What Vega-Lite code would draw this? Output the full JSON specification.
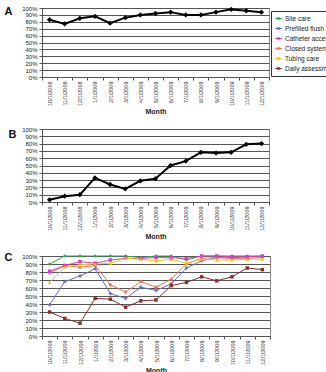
{
  "$schema": "https://vega.github.io/schema/vega-lite/v6.json",
  "background": "white",
  "padding": {"left": 3, "top": 4, "right": 0, "bottom": 0},
  "spacing": 10,
  "align": "each",
  "datasets": {
    "a": [
      {"month": "10/1/2008", "value": 0.83},
      {"month": "11/1/2008", "value": 0.77},
      {"month": "12/1/2008", "value": 0.85},
      {"month": "1/1/2009", "value": 0.88},
      {"month": "2/1/2009", "value": 0.78},
      {"month": "3/1/2009", "value": 0.86},
      {"month": "4/1/2009", "value": 0.90},
      {"month": "5/1/2009", "value": 0.92},
      {"month": "6/1/2009", "value": 0.94},
      {"month": "7/1/2009", "value": 0.90},
      {"month": "8/1/2009", "value": 0.90},
      {"month": "9/1/2009", "value": 0.94},
      {"month": "10/1/2009", "value": 0.98},
      {"month": "11/1/2009", "value": 0.96},
      {"month": "12/1/2009", "value": 0.94}
    ],
    "b": [
      {"month": "10/1/2008", "value": 0.03},
      {"month": "11/1/2008", "value": 0.08},
      {"month": "12/1/2008", "value": 0.10},
      {"month": "1/1/2009", "value": 0.33},
      {"month": "2/1/2009", "value": 0.24},
      {"month": "3/1/2009", "value": 0.18},
      {"month": "4/1/2009", "value": 0.29},
      {"month": "5/1/2009", "value": 0.32},
      {"month": "6/1/2009", "value": 0.50},
      {"month": "7/1/2009", "value": 0.56},
      {"month": "8/1/2009", "value": 0.68},
      {"month": "9/1/2009", "value": 0.67},
      {"month": "10/1/2009", "value": 0.68},
      {"month": "11/1/2009", "value": 0.79},
      {"month": "12/1/2009", "value": 0.80}
    ],
    "c": [
      {"series": "Site care", "month": "10/1/2008", "value": 0.90},
      {"series": "Site care", "month": "11/1/2008", "value": 1.00},
      {"series": "Site care", "month": "12/1/2008", "value": 1.00},
      {"series": "Site care", "month": "1/1/2009", "value": 1.00},
      {"series": "Site care", "month": "2/1/2009", "value": 1.00},
      {"series": "Site care", "month": "3/1/2009", "value": 1.00},
      {"series": "Site care", "month": "4/1/2009", "value": 0.98},
      {"series": "Site care", "month": "5/1/2009", "value": 1.00},
      {"series": "Site care", "month": "6/1/2009", "value": 1.00},
      {"series": "Site care", "month": "7/1/2009", "value": 0.95},
      {"series": "Site care", "month": "8/1/2009", "value": 1.00},
      {"series": "Site care", "month": "9/1/2009", "value": 1.00},
      {"series": "Site care", "month": "10/1/2009", "value": 1.00},
      {"series": "Site care", "month": "11/1/2009", "value": 1.00},
      {"series": "Site care", "month": "12/1/2009", "value": 1.00},
      {"series": "Prefilled flush", "month": "10/1/2008", "value": 0.39},
      {"series": "Prefilled flush", "month": "11/1/2008", "value": 0.68},
      {"series": "Prefilled flush", "month": "12/1/2008", "value": 0.75},
      {"series": "Prefilled flush", "month": "1/1/2009", "value": 0.84},
      {"series": "Prefilled flush", "month": "2/1/2009", "value": 0.53},
      {"series": "Prefilled flush", "month": "3/1/2009", "value": 0.47},
      {"series": "Prefilled flush", "month": "4/1/2009", "value": 0.61},
      {"series": "Prefilled flush", "month": "5/1/2009", "value": 0.57},
      {"series": "Prefilled flush", "month": "6/1/2009", "value": 0.65},
      {"series": "Prefilled flush", "month": "7/1/2009", "value": 0.85},
      {"series": "Prefilled flush", "month": "8/1/2009", "value": 0.94},
      {"series": "Prefilled flush", "month": "9/1/2009", "value": 0.98},
      {"series": "Prefilled flush", "month": "10/1/2009", "value": 0.98},
      {"series": "Prefilled flush", "month": "11/1/2009", "value": 0.99},
      {"series": "Prefilled flush", "month": "12/1/2009", "value": 0.99},
      {"series": "Catheter access", "month": "10/1/2008", "value": 0.81},
      {"series": "Catheter access", "month": "11/1/2008", "value": 0.88},
      {"series": "Catheter access", "month": "12/1/2008", "value": 0.93},
      {"series": "Catheter access", "month": "1/1/2009", "value": 0.91},
      {"series": "Catheter access", "month": "2/1/2009", "value": 0.95},
      {"series": "Catheter access", "month": "3/1/2009", "value": 0.97},
      {"series": "Catheter access", "month": "4/1/2009", "value": 0.97},
      {"series": "Catheter access", "month": "5/1/2009", "value": 0.98},
      {"series": "Catheter access", "month": "6/1/2009", "value": 0.98},
      {"series": "Catheter access", "month": "7/1/2009", "value": 0.97},
      {"series": "Catheter access", "month": "8/1/2009", "value": 1.00},
      {"series": "Catheter access", "month": "9/1/2009", "value": 1.00},
      {"series": "Catheter access", "month": "10/1/2009", "value": 0.99},
      {"series": "Catheter access", "month": "11/1/2009", "value": 0.99},
      {"series": "Catheter access", "month": "12/1/2009", "value": 1.00},
      {"series": "Closed system", "month": "10/1/2008", "value": 0.79},
      {"series": "Closed system", "month": "11/1/2008", "value": 0.88},
      {"series": "Closed system", "month": "12/1/2008", "value": 0.86},
      {"series": "Closed system", "month": "1/1/2009", "value": 0.88},
      {"series": "Closed system", "month": "2/1/2009", "value": 0.64},
      {"series": "Closed system", "month": "3/1/2009", "value": 0.55},
      {"series": "Closed system", "month": "4/1/2009", "value": 0.68},
      {"series": "Closed system", "month": "5/1/2009", "value": 0.61},
      {"series": "Closed system", "month": "6/1/2009", "value": 0.71},
      {"series": "Closed system", "month": "7/1/2009", "value": 0.90},
      {"series": "Closed system", "month": "8/1/2009", "value": 0.97},
      {"series": "Closed system", "month": "9/1/2009", "value": 0.98},
      {"series": "Closed system", "month": "10/1/2009", "value": 0.97},
      {"series": "Closed system", "month": "11/1/2009", "value": 0.97},
      {"series": "Closed system", "month": "12/1/2009", "value": 0.98},
      {"series": "Tubing care", "month": "10/1/2008", "value": 0.67},
      {"series": "Tubing care", "month": "11/1/2008", "value": 0.86},
      {"series": "Tubing care", "month": "12/1/2008", "value": 0.89},
      {"series": "Tubing care", "month": "1/1/2009", "value": 0.90},
      {"series": "Tubing care", "month": "2/1/2009", "value": 0.91},
      {"series": "Tubing care", "month": "3/1/2009", "value": 0.97},
      {"series": "Tubing care", "month": "4/1/2009", "value": 0.96},
      {"series": "Tubing care", "month": "5/1/2009", "value": 0.94},
      {"series": "Tubing care", "month": "6/1/2009", "value": 0.96},
      {"series": "Tubing care", "month": "7/1/2009", "value": 0.91},
      {"series": "Tubing care", "month": "8/1/2009", "value": 0.96},
      {"series": "Tubing care", "month": "9/1/2009", "value": 0.95},
      {"series": "Tubing care", "month": "10/1/2009", "value": 0.95},
      {"series": "Tubing care", "month": "11/1/2009", "value": 0.96},
      {"series": "Tubing care", "month": "12/1/2009", "value": 0.96},
      {"series": "Daily assessment", "month": "10/1/2008", "value": 0.30},
      {"series": "Daily assessment", "month": "11/1/2008", "value": 0.22},
      {"series": "Daily assessment", "month": "12/1/2008", "value": 0.16},
      {"series": "Daily assessment", "month": "1/1/2009", "value": 0.47},
      {"series": "Daily assessment", "month": "2/1/2009", "value": 0.46},
      {"series": "Daily assessment", "month": "3/1/2009", "value": 0.36},
      {"series": "Daily assessment", "month": "4/1/2009", "value": 0.44},
      {"series": "Daily assessment", "month": "5/1/2009", "value": 0.45},
      {"series": "Daily assessment", "month": "6/1/2009", "value": 0.63},
      {"series": "Daily assessment", "month": "7/1/2009", "value": 0.67},
      {"series": "Daily assessment", "month": "8/1/2009", "value": 0.74},
      {"series": "Daily assessment", "month": "9/1/2009", "value": 0.69},
      {"series": "Daily assessment", "month": "10/1/2009", "value": 0.74},
      {"series": "Daily assessment", "month": "11/1/2009", "value": 0.85},
      {"series": "Daily assessment", "month": "12/1/2009", "value": 0.83}
    ]
  },
  "vconcat": [
    {
      "width": 227,
      "height": 69,
      "data": {"name": "a"},
      "encoding": {
        "x": {"field": "month", "type": "ordinal", "sort": null, "scale": {"type": "band"}, "axis": {"title": "Month"}},
        "y": {"field": "value", "type": "quantitative", "scale": {"domain": [0, 1]}, "axis": {"title": "A", "titleX": -38, "titleY": -3, "values": [0, 0.1, 0.2, 0.3, 0.4, 0.5, 0.6, 0.7, 0.8, 0.9, 1]}}
      },
      "layer": [
        {"mark": {"type": "line", "color": "black", "strokeWidth": 2}},
        {"mark": {"type": "point", "shape": "diamond", "filled": true, "color": "black", "size": 28, "opacity": 1}}
      ]
    },
    {
      "width": 227,
      "height": 73,
      "data": {"name": "b"},
      "encoding": {
        "x": {"field": "month", "type": "ordinal", "sort": null, "scale": {"type": "band"}, "axis": {"title": "Month"}},
        "y": {"field": "value", "type": "quantitative", "scale": {"domain": [0, 1]}, "axis": {"title": "B", "titleX": -34, "titleY": -1, "values": [0, 0.1, 0.2, 0.3, 0.4, 0.5, 0.6, 0.7, 0.8, 0.9, 1]}}
      },
      "layer": [
        {"mark": {"type": "line", "color": "black", "strokeWidth": 2}},
        {"mark": {"type": "point", "shape": "diamond", "filled": true, "color": "black", "size": 28, "opacity": 1}}
      ]
    },
    {
      "width": 228,
      "height": 80,
      "data": {"name": "c"},
      "encoding": {
        "x": {"field": "month", "type": "ordinal", "sort": null, "scale": {"type": "band"}, "axis": {"title": "Month"}},
        "y": {"field": "value", "type": "quantitative", "scale": {"domain": [0, 1]}, "axis": {"title": "C", "titleX": -38, "titleY": -5, "values": [0, 0.1, 0.2, 0.3, 0.4, 0.5, 0.6, 0.7, 0.8, 0.9, 1]}},
        "color": {
          "field": "series", "type": "nominal",
          "sort": ["Site care", "Prefilled flush", "Catheter access", "Closed system", "Tubing care", "Daily assessment"],
          "scale": {
            "domain": ["Site care", "Prefilled flush", "Catheter access", "Closed system", "Tubing care", "Daily assessment"],
            "range": ["#22b04a", "#6a6ad0", "#d83cc8", "#f0705a", "#f5c800", "#8e2a2a"]
          },
          "legend": {
            "orient": "none", "legendX": 229, "legendY": 3, "title": null,
            "strokeColor": "#333", "padding": 4, "labelFontSize": 6.5, "labelColor": "#222",
            "rowPadding": 3, "labelOffset": 3,
            "symbolType": "M-1.3,0H1.3M-0.3,-0.3H0.3V0.3H-0.3Z",
            "symbolSize": 25, "symbolStrokeWidth": 1.1
          }
        }
      },
      "layer": [
        {"mark": {"type": "line", "strokeWidth": 1}},
        {
          "transform": [{"filter": {"field": "series", "oneOf": ["Site care"]}}],
          "mark": {"type": "point", "shape": "diamond", "filled": true, "size": 12, "opacity": 1}
        },
        {
          "transform": [{"filter": {"field": "series", "oneOf": ["Prefilled flush", "Closed system"]}}],
          "mark": {"type": "point", "shape": "cross", "filled": true, "size": 12, "opacity": 1}
        },
        {
          "transform": [{"filter": {"field": "series", "oneOf": ["Catheter access", "Daily assessment"]}}],
          "mark": {"type": "point", "shape": "square", "filled": true, "size": 12, "opacity": 1}
        },
        {
          "transform": [{"filter": {"field": "series", "oneOf": ["Tubing care"]}}],
          "mark": {"type": "point", "shape": "triangle-up", "filled": true, "size": 14, "opacity": 1}
        }
      ]
    }
  ],
  "config": {
    "font": "Liberation Sans",
    "view": {"stroke": "#888", "strokeWidth": 1},
    "axisY": {
      "format": ".0%",
      "labelFontSize": 6,
      "labelColor": "#222",
      "labelPadding": 2,
      "gridColor": "#555",
      "gridWidth": 1,
      "gridOpacity": 1,
      "domainColor": "#555",
      "tickColor": "#555",
      "tickSize": 3,
      "titleAngle": 0,
      "titleAlign": "left",
      "titleBaseline": "top",
      "titleFontSize": 11,
      "titleFontWeight": "bold",
      "titleColor": "#111"
    },
    "axisX": {
      "labelAngle": 270,
      "labelFontSize": 5.5,
      "labelColor": "#333",
      "labelPadding": 1,
      "grid": false,
      "tickBand": "extent",
      "tickColor": "#555",
      "tickSize": 3,
      "domainColor": "#555",
      "titleFontSize": 7,
      "titleFontWeight": "bold",
      "titleColor": "#222",
      "titlePadding": 2
    }
  }
}
